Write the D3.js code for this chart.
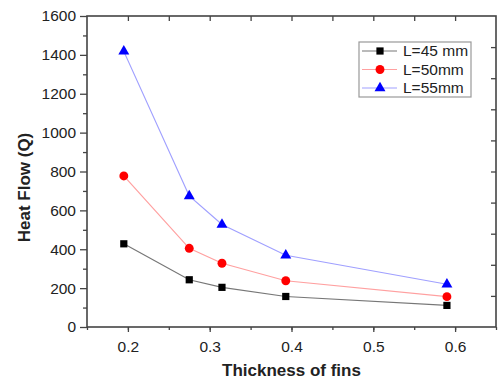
<!DOCTYPE html>
<html>
<head>
<meta charset="utf-8">
<script src="https://cdn.jsdelivr.net/npm/d3@7/dist/d3.min.js"></script>
<style>
body { margin: 0; background: #fff; }
svg text { font-family: "Liberation Sans", Arial, sans-serif; fill: #222; }
</style>
</head>
<body>
<svg id="chart" width="498" height="382"></svg>
<script>
// data
var thickness = [0.195, 0.275, 0.315, 0.393, 0.59];
var q45 = [428, 243, 204, 157, 111];
var q50 = [777, 405, 328, 238, 156];
var q55 = [1418, 674, 527, 369, 220];
var seriesNames = ["L=45 mm", "L=50mm", "L=55mm"];
var xTicks = [0.2, 0.3, 0.4, 0.5, 0.6];
var yTicks = [0, 200, 400, 600, 800, 1000, 1200, 1400, 1600];

var plotLeft = 87, plotTop = 16, plotRight = 496, plotBottom = 327;
var svg = d3.select("#chart");

var x = d3.scaleLinear().domain([0.15, 0.65]).range([plotLeft, plotRight]);
var y = d3.scaleLinear().domain([0, 1600]).range([plotBottom, plotTop]);

var axisColor = "#444";

function styleAxis(g) {
    g.select(".domain").remove();
    g.selectAll("line").attr("stroke", axisColor).attr("stroke-width", 1.3);
    g.selectAll("text").style("font-size", "15.5px").attr("fill", "#222");
}

// minor ticks
svg.append("g")
    .attr("transform", "translate(0," + plotBottom + ")")
    .call(d3.axisBottom(x).tickValues(d3.range(0.15, 0.66, 0.05)).tickSize(3).tickFormat(""))
    .call(styleAxis);
svg.append("g")
    .attr("transform", "translate(" + plotLeft + ",0)")
    .call(d3.axisLeft(y).tickValues(d3.range(100, 1600, 200)).tickSize(4).tickFormat(""))
    .call(styleAxis);

// major ticks
svg.append("g")
    .attr("transform", "translate(0," + plotBottom + ")")
    .call(d3.axisBottom(x).tickValues(xTicks).tickSize(5).tickPadding(9).tickFormat(d3.format(".1f")))
    .call(styleAxis);
svg.append("g")
    .attr("transform", "translate(" + plotLeft + ",0)")
    .call(d3.axisLeft(y).tickValues(yTicks).tickSize(7).tickPadding(4).tickFormat(d3.format("d")))
    .call(styleAxis);

// top and right inward ticks
svg.append("g")
    .attr("transform", "translate(0," + plotTop + ")")
    .call(d3.axisTop(x).tickValues(d3.range(0.2, 0.65, 0.05)).tickSize(-5).tickFormat(""))
    .call(styleAxis);
svg.append("g")
    .attr("transform", "translate(" + plotRight + ",0)")
    .call(d3.axisRight(y).tickValues(d3.range(160, 1600, 160)).tickSize(-5).tickFormat(""))
    .call(styleAxis);

// frame
svg.append("rect")
    .attr("x", plotLeft).attr("y", plotTop)
    .attr("width", plotRight - plotLeft).attr("height", plotBottom - plotTop)
    .attr("fill", "none").attr("stroke", axisColor).attr("stroke-width", 1.6);

// axis titles
svg.append("text")
    .attr("x", (plotLeft + plotRight) / 2).attr("y", 376)
    .attr("text-anchor", "middle")
    .style("font-size", "17px").style("font-weight", "bold")
    .attr("fill", "#111")
    .text("Thickness of fins");
svg.append("text")
    .attr("transform", "translate(30," + ((plotTop + plotBottom) / 2 + 16) + ") rotate(-90)")
    .attr("text-anchor", "middle")
    .style("font-size", "17px").style("font-weight", "bold")
    .attr("fill", "#111")
    .text("Heat Flow (Q)");

var series = [
    { name: seriesNames[0], values: q45, color: "#000", line: "#777", shape: d3.symbolSquare, size: 52 },
    { name: seriesNames[1], values: q50, color: "#ff0000", line: "#ffa0a0", shape: d3.symbolCircle, size: 62 },
    { name: seriesNames[2], values: q55, color: "#0000ff", line: "#a0a0ff", shape: d3.symbolTriangle, size: 52 }
];

var line = d3.line()
    .x(function(d, i) { return x(thickness[i]); })
    .y(function(d) { return y(d); });

series.forEach(function(s) {
    svg.append("path")
        .datum(s.values)
        .attr("d", line)
        .attr("fill", "none")
        .attr("stroke", s.line)
        .attr("stroke-width", 1.2);
    svg.selectAll(null)
        .data(s.values)
        .enter().append("path")
        .attr("d", d3.symbol().type(s.shape).size(s.size))
        .attr("transform", function(d, i) { return "translate(" + x(thickness[i]) + "," + y(d) + ")"; })
        .attr("fill", s.color);
});

// legend
var legend = svg.append("g").attr("transform", "translate(359,42)");
legend.append("rect")
    .attr("width", 112).attr("height", 55)
    .attr("fill", "#fff").attr("stroke", "#999").attr("stroke-width", 1.2);
series.forEach(function(s, i) {
    var yy = 9 + i * 18.5;
    legend.append("line")
        .attr("x1", 3).attr("x2", 38).attr("y1", yy).attr("y2", yy)
        .attr("stroke", s.line).attr("stroke-width", 1.2);
    legend.append("path")
        .attr("d", d3.symbol().type(s.shape).size(s.size))
        .attr("transform", "translate(21," + yy + ")")
        .attr("fill", s.color);
    legend.append("text")
        .attr("x", 44).attr("y", yy + 5)
        .style("font-size", "15.5px")
        .attr("fill", "#111")
        .text(s.name);
});
</script>
</body>
</html>
